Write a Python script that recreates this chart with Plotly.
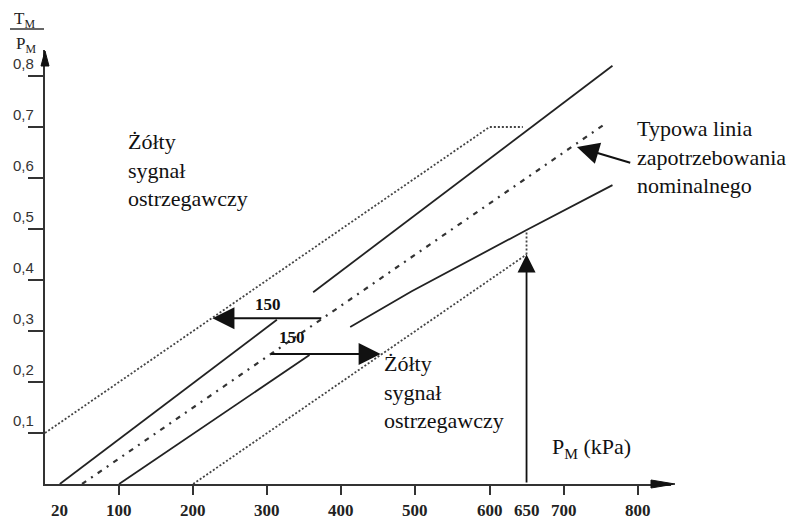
import plotly.graph_objects as go

# --- data -------------------------------------------------------------
# upper warning limit (dotted), capped horizontally at the top
upper_dotted_x = [0, 600, 645]
upper_dotted_y = [0.10, 0.70, 0.70]

# upper solid band edge (two segments)
upper_solid_x = [20, 313, None, 362, 766]
upper_solid_y = [0.0, 0.322, None, 0.376, 0.82]

# typical nominal demand line (dash-dot)
nominal_x = [50, 758]
nominal_y = [0.0, 0.708]

# lower solid band edge (two segments, second one bends slightly)
lower_solid_x = [100, 357, None, 412, 495, 650, 766]
lower_solid_y = [0.0, 0.253, None, 0.308, 0.378, 0.498, 0.586]

# lower warning limit (dotted) and link up to the solid line at 650 kPa
lower_dotted_x = [200, 650, None, 650, 650]
lower_dotted_y = [0.0, 0.45, None, 0.45, 0.498]

# 150 kPa offset arrows: (y, from x, to x)
offset_arrows = [(0.325, 375, 226), (0.255, 303, 453)]
offset_labels = [(301, 0.351, "150"), (333, 0.288, "150")]

x_ticks = [100, 200, 300, 400, 500, 600, 650, 700, 800]
x_tick_marks = [100, 200, 300, 400, 500, 600, 700, 800]
x_tick_text = ["100", "200", "300", "400", "500", "600", "650", "700", "800"]
y_ticks = [0.1, 0.2, 0.3, 0.4, 0.5, 0.6, 0.7, 0.8]
y_tick_text = ["0,1", "0,2", "0,3", "0,4", "0,5", "0,6", "0,7", "0,8"]

# --- layout geometry --------------------------------------------------
W, H = 791, 520
ML, MR, MT, MB = 45, 120, 50, 36
X_MAX = 845
Y_MAX = (H - MT - MB) / 510.0
PW, PH = W - ML - MR, H - MT - MB


def px_to_paper(px, py):
    return (px - ML) / PW, (H - MB - py) / PH


LINE = "#222222"
DOT = "#444444"
SERIF = "Liberation Serif, Times New Roman, serif"
SANS = "Liberation Sans, Arial, sans-serif"

fig = go.Figure()

fig.add_trace(go.Scatter(x=upper_dotted_x, y=upper_dotted_y, mode="lines",
                         line=dict(color=DOT, width=1.8, dash="2px,2px"),
                         hoverinfo="skip", showlegend=False))
fig.add_trace(go.Scatter(x=upper_solid_x, y=upper_solid_y, mode="lines",
                         line=dict(color=LINE, width=1.8),
                         connectgaps=False, hoverinfo="skip", showlegend=False))
fig.add_trace(go.Scatter(x=nominal_x, y=nominal_y, mode="lines",
                         line=dict(color="#333333", width=2.2, dash="5px,6px,2px,6px"),
                         hoverinfo="skip", showlegend=False))
fig.add_trace(go.Scatter(x=lower_solid_x, y=lower_solid_y, mode="lines",
                         line=dict(color=LINE, width=1.8),
                         connectgaps=False, hoverinfo="skip", showlegend=False))
fig.add_trace(go.Scatter(x=lower_dotted_x, y=lower_dotted_y, mode="lines",
                         line=dict(color=DOT, width=1.8, dash="2px,2px"),
                         connectgaps=False, hoverinfo="skip", showlegend=False))

annotations = []

# 150 kPa offset arrows and their labels
for y, x0, x1 in offset_arrows:
    annotations.append(dict(x=x1, y=y, ax=x0, ay=y, xref="x", yref="y",
                            axref="x", ayref="y", text="", showarrow=True,
                            arrowhead=2, arrowsize=2.2, arrowwidth=2,
                            arrowcolor="#111"))
for x, y, t in offset_labels:
    annotations.append(dict(x=x, y=y, text=f"<b>{t}</b>", showarrow=False,
                            font=dict(family=SERIF, size=17, color="#111")))

# vertical arrow at 650 kPa
annotations.append(dict(x=650, y=0.45, ax=650, ay=0.0, xref="x", yref="y",
                        axref="x", ayref="y", text="", showarrow=True,
                        arrowhead=2, arrowsize=2.0, arrowwidth=1.8,
                        arrowcolor="#111"))

# pointer to the nominal line
annotations.append(dict(x=718, y=0.661, ax=792, ay=0.629, xref="x", yref="y",
                        axref="x", ayref="y", text="", showarrow=True,
                        arrowhead=2, arrowsize=2.2, arrowwidth=2,
                        arrowcolor="#111"))

# region texts
annotations.append(dict(x=109, y=0.616, xref="x", yref="y", xanchor="left",
                        yanchor="middle", align="left", showarrow=False,
                        text="Żółty<br>sygnał<br>ostrzegawczy",
                        font=dict(family=SERIF, size=22, color="#111")))
annotations.append(dict(x=455, y=0.18, xref="x", yref="y", xanchor="left",
                        yanchor="middle", align="left", showarrow=False,
                        text="Żółty<br>sygnał<br>ostrzegawczy",
                        font=dict(family=SERIF, size=22, color="#111")))
annotations.append(dict(x=796, y=0.641, xref="x", yref="y", xanchor="left",
                        yanchor="middle", align="left", showarrow=False,
                        text="Typowa linia<br>zapotrzebowania<br>nominalnego",
                        font=dict(family=SERIF, size=22, color="#111")))
annotations.append(dict(x=681, y=0.07, xref="x", yref="y", xanchor="left",
                        yanchor="middle", showarrow=False,
                        text="P<sub>M</sub> (kPa)",
                        font=dict(family=SERIF, size=22, color="#111")))

# x tick labels
for v, t in zip([20] + x_ticks, ["20"] + x_tick_text):
    annotations.append(dict(x=v, y=0, xref="x", yref="paper", xanchor="center",
                            yanchor="top", yshift=-15, showarrow=False,
                            text=f"<b>{t}</b>",
                            font=dict(family=SERIF, size=17, color="#222")))

# y tick labels, sitting above their tick marks
for v, t in zip(y_ticks, y_tick_text):
    annotations.append(dict(x=0, y=v, xref="paper", yref="y", xanchor="right",
                            yanchor="middle", xshift=-9, yshift=13,
                            showarrow=False, text=t,
                            font=dict(family=SANS, size=15, color="#333")))

# y axis title: T_M over P_M
tx, ty = px_to_paper(24, 20)
annotations.append(dict(x=tx, y=ty, xref="paper", yref="paper",
                        xanchor="center", yanchor="middle", showarrow=False,
                        text="T<sub>M</sub>",
                        font=dict(family=SERIF, size=17, color="#222")))
px_, py_ = px_to_paper(26, 45)
annotations.append(dict(x=px_, y=py_, xref="paper", yref="paper",
                        xanchor="center", yanchor="middle", showarrow=False,
                        text="P<sub>M</sub>",
                        font=dict(family=SERIF, size=17, color="#222")))

shapes = []
# fraction bar of the y axis title
x0, yb = px_to_paper(10, 29)
x1, _ = px_to_paper(44, 29)
shapes.append(dict(type="line", xref="paper", yref="paper", x0=x0, x1=x1,
                   y0=yb, y1=yb, line=dict(color="#333", width=1.5)))

# arrowheads at the ends of both axes
ax_tip = px_to_paper(45, 51)
ax_l = px_to_paper(41, 66)
ax_r = px_to_paper(49, 66)
shapes.append(dict(type="path", xref="paper", yref="paper",
                   path=f"M {ax_tip[0]} {ax_tip[1]} L {ax_l[0]} {ax_l[1]} L {ax_r[0]} {ax_r[1]} Z",
                   fillcolor="#111", line=dict(color="#111", width=1)))
xr_tip = px_to_paper(675, 484)
xr_t = px_to_paper(651, 480)
xr_b = px_to_paper(651, 488)
shapes.append(dict(type="path", xref="paper", yref="paper",
                   path=f"M {xr_tip[0]} {xr_tip[1]} L {xr_t[0]} {xr_t[1]} L {xr_b[0]} {xr_b[1]} Z",
                   fillcolor="#111", line=dict(color="#111", width=1)))

fig.update_layout(
    width=W, height=H,
    margin=dict(l=ML, r=MR, t=MT, b=MB),
    paper_bgcolor="white", plot_bgcolor="white",
    showlegend=False,
    annotations=annotations,
    shapes=shapes,
    xaxis=dict(range=[0, X_MAX], showgrid=False, zeroline=False,
               showline=True, linecolor="#333", linewidth=1.6,
               tickvals=x_tick_marks, ticks="outside", ticklen=9,
               tickwidth=1.5, tickcolor="#333", showticklabels=False,
               fixedrange=True),
    yaxis=dict(range=[0, Y_MAX], showgrid=False, zeroline=False,
               showline=True, linecolor="#333", linewidth=1.6,
               tickvals=y_ticks, ticks="outside", ticklen=15,
               tickwidth=1.5, tickcolor="#333", showticklabels=False,
               fixedrange=True),
)

fig.write_html("out.html")
